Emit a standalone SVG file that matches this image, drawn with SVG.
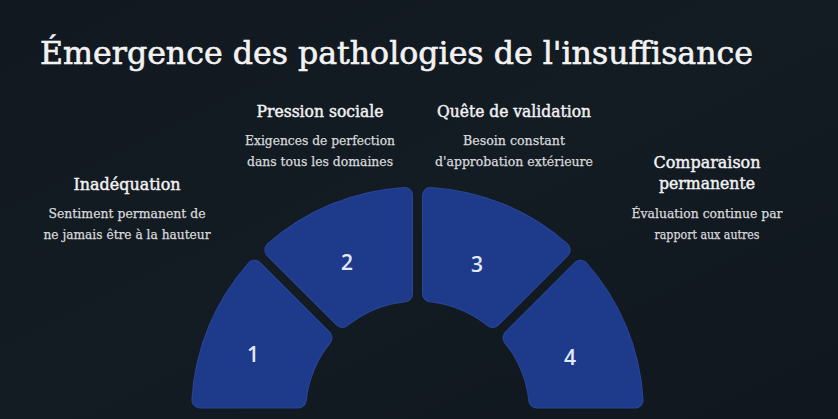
<svg xmlns="http://www.w3.org/2000/svg" width="838" height="419" viewBox="0 0 838 419">
<defs>
<linearGradient id="bg" x1="0" y1="0" x2="1" y2="1">
<stop offset="0" stop-color="#111820"/>
<stop offset="0.5" stop-color="#131b23"/>
<stop offset="1" stop-color="#10171e"/>
</linearGradient>
<style>
.title{font-family:"DejaVu Serif","Liberation Serif",serif;font-size:31px;fill:#f2f2f2;stroke:#f2f2f2;stroke-width:0.6}
.head{font-family:"DejaVu Serif","Liberation Serif",serif;font-size:16px;fill:#f2f2f2;stroke:#f2f2f2;stroke-width:0.45;text-anchor:middle}
.desc{font-family:"DejaVu Serif","Liberation Serif",serif;font-size:12.5px;fill:#d9dadc;stroke:#d9dadc;stroke-width:0.25;text-anchor:middle}
.num{font-family:"Open Sans","Noto Sans",sans-serif;font-size:21px;font-weight:600;fill:#e3e9fb;text-anchor:middle}
.edge{fill:#2a4597;stroke:#2a4597;stroke-width:17;stroke-linejoin:round}
.seg{fill:#1e3a8a;stroke:#1e3a8a;stroke-width:15;stroke-linejoin:round}
</style>
</defs>
<rect width="838" height="419" fill="url(#bg)"/>
<text class="title" x="40" y="64" textLength="713" lengthAdjust="spacingAndGlyphs">Émergence des pathologies de l'insuffisance</text>

<g id="connectors"></g>

<g id="node1">
<path class="edge" d="M199.89 400 A218 218 0 0 1 254.45 268.30 L323.96 337.83 A120 120 0 0 0 298.21 400 Z"/>
<path class="seg" d="M199.89 400 A218 218 0 0 1 254.45 268.30 L323.96 337.83 A120 120 0 0 0 298.21 400 Z"/>
<text class="num" x="253" y="362">1</text>
<text class="head" x="127" y="190" textLength="107" lengthAdjust="spacingAndGlyphs">Inadéquation</text>
<text class="desc" x="127" y="218" textLength="157" lengthAdjust="spacingAndGlyphs">Sentiment permanent de</text>
<text class="desc" x="127" y="239" textLength="167" lengthAdjust="spacingAndGlyphs">ne jamais être à la hauteur</text>
</g>

<g id="node2">
<path class="edge" d="M272.80 249.95 A218 218 0 0 1 404.5 195.39 L404.5 293.71 A120 120 0 0 0 342.33 319.46 Z"/>
<path class="seg" d="M272.80 249.95 A218 218 0 0 1 404.5 195.39 L404.5 293.71 A120 120 0 0 0 342.33 319.46 Z"/>
<text class="num" x="347" y="270">2</text>
<text class="head" x="320" y="117" textLength="127" lengthAdjust="spacingAndGlyphs">Pression sociale</text>
<text class="desc" x="320" y="145" textLength="150" lengthAdjust="spacingAndGlyphs">Exigences de perfection</text>
<text class="desc" x="320" y="166" textLength="146" lengthAdjust="spacingAndGlyphs">dans tous les domaines</text>
</g>

<g id="node3">
<path class="edge" d="M430.5 195.39 A218 218 0 0 1 562.20 249.95 L492.67 319.46 A120 120 0 0 0 430.5 293.71 Z"/>
<path class="seg" d="M430.5 195.39 A218 218 0 0 1 562.20 249.95 L492.67 319.46 A120 120 0 0 0 430.5 293.71 Z"/>
<text class="num" x="477" y="272">3</text>
<text class="head" x="514" y="117" textLength="154" lengthAdjust="spacingAndGlyphs">Quête de validation</text>
<text class="desc" x="514" y="145" textLength="102" lengthAdjust="spacingAndGlyphs">Besoin constant</text>
<text class="desc" x="514" y="166" textLength="158" lengthAdjust="spacingAndGlyphs">d'approbation extérieure</text>
</g>

<g id="node4">
<path class="edge" d="M580.55 268.30 A218 218 0 0 1 635.11 400 L536.79 400 A120 120 0 0 0 511.04 337.83 Z"/>
<path class="seg" d="M580.55 268.30 A218 218 0 0 1 635.11 400 L536.79 400 A120 120 0 0 0 511.04 337.83 Z"/>
<text class="num" x="570" y="365">4</text>
<text class="head" x="707" y="168" textLength="107" lengthAdjust="spacingAndGlyphs">Comparaison</text>
<text class="head" x="707" y="189" textLength="96" lengthAdjust="spacingAndGlyphs">permanente</text>
<text class="desc" x="707" y="218" textLength="151" lengthAdjust="spacingAndGlyphs">Évaluation continue par</text>
<text class="desc" x="707" y="239" textLength="105" lengthAdjust="spacingAndGlyphs">rapport aux autres</text>
</g>
</svg>
